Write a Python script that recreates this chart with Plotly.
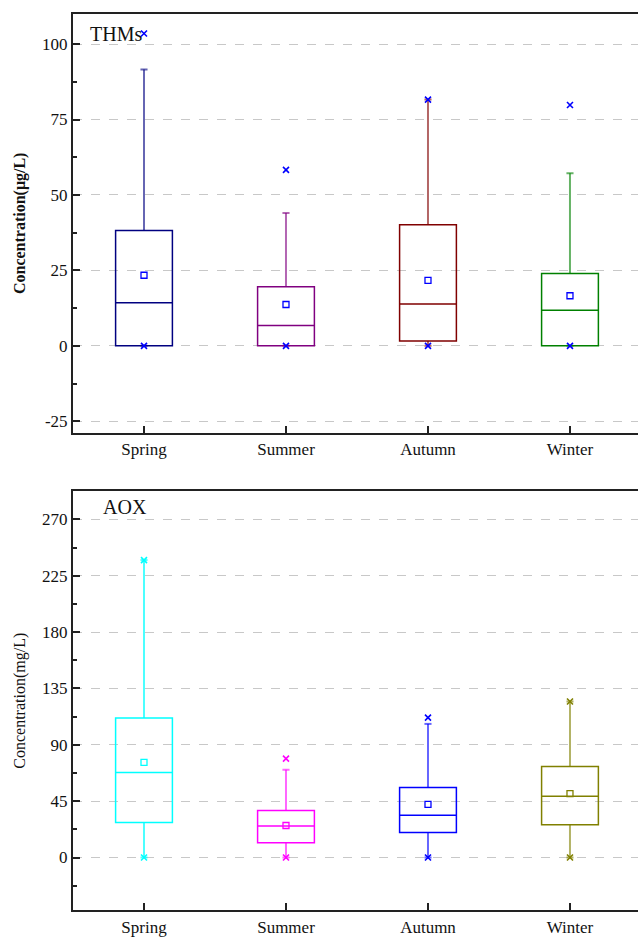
import plotly.graph_objects as go

seasons = ["Spring", "Summer", "Autumn", "Winter"]

# THMs (ug/L)
thm_q1 = [0.0, 0.0, 1.6, 0.0]
thm_med = [14.3, 6.7, 13.9, 11.8]
thm_q3 = [38.2, 19.6, 40.1, 24.0]
thm_mean = [23.4, 13.7, 21.7, 16.6]
thm_wlo = [0.0, 0.0, 0.0, 0.0]
thm_whi = [91.6, 44.0, 81.6, 57.2]
thm_min = [0.0, 0.0, 0.0, 0.0]
thm_max = [103.5, 58.3, 81.6, 79.8]

# AOX (mg/L)
aox_q1 = [28.0, 11.9, 20.0, 26.1]
aox_med = [67.9, 25.1, 33.8, 48.9]
aox_q3 = [111.5, 37.5, 56.0, 72.7]
aox_mean = [76.0, 25.6, 42.5, 51.0]
aox_wlo = [0.0, 0.0, 0.0, 0.0]
aox_whi = [237.5, 70.0, 106.7, 124.6]
aox_min = [0.0, 0.0, 0.0, 0.0]
aox_max = [237.5, 79.0, 111.7, 124.6]

thm_colors = ["#000080", "#800080", "#800000", "#008000"]
thm_wcolors = ["rgba(0,0,128,0.6)", "rgba(128,0,128,0.6)", "rgba(128,0,0,0.6)", "rgba(0,128,0,0.6)"]
thm_mcolors = ["#0000ff"] * 4
aox_colors = ["#00ffff", "#ff00ff", "#0000ff", "#808000"]
aox_wcolors = ["rgba(0,255,255,0.7)", "rgba(255,0,255,0.6)", "rgba(0,0,255,0.6)", "rgba(128,128,0,0.6)"]
aox_mcolors = aox_colors

FONT = "Liberation Serif"
BW = 0.4
CAP = 0.025

fig = go.Figure()


def add_panel(xa, ya, q1, med, q3, mean, wlo, whi, vmin, vmax, cols, wcols, mcols):
    for i in range(len(seasons)):
        # whiskers with caps
        xs = [i, i, None, i, i, None, i - CAP, i + CAP, None, i - CAP, i + CAP]
        ys = [q3[i], whi[i], None, q1[i], wlo[i], None, whi[i], whi[i], None, wlo[i], wlo[i]]
        fig.add_trace(go.Scatter(x=xs, y=ys, mode="lines", xaxis=xa, yaxis=ya,
                                 line=dict(color=wcols[i], width=2), showlegend=False,
                                 hoverinfo="skip"))
        fig.add_trace(go.Box(x=[i], q1=[q1[i]], median=[med[i]], q3=[q3[i]],
                             lowerfence=[q1[i]], upperfence=[q3[i]],
                             width=BW, xaxis=xa, yaxis=ya,
                             line=dict(color=cols[i], width=1.5),
                             fillcolor="rgba(0,0,0,0)", boxpoints=False,
                             showlegend=False))
        fig.add_trace(go.Scatter(x=[i, i], y=[vmin[i], vmax[i]], mode="markers",
                                 xaxis=xa, yaxis=ya,
                                 marker=dict(symbol="x-thin-open", size=6, color=mcols[i],
                                             line=dict(color=mcols[i], width=1.6)),
                                 showlegend=False))
        fig.add_trace(go.Scatter(x=[i], y=[mean[i]], mode="markers",
                                 xaxis=xa, yaxis=ya,
                                 marker=dict(symbol="square-open", size=6,
                                             color=mcols[i], line=dict(color=mcols[i], width=1.3)),
                                 showlegend=False))


add_panel("x", "y", thm_q1, thm_med, thm_q3, thm_mean, thm_wlo, thm_whi,
          thm_min, thm_max, thm_colors, thm_wcolors, thm_mcolors)
add_panel("x2", "y2", aox_q1, aox_med, aox_q3, aox_mean, aox_wlo, aox_whi,
          aox_min, aox_max, aox_colors, aox_wcolors, aox_mcolors)

W, H = 638, 937
xdom = [73 / W, 1.0]
xr = [-0.5, 3.479]
TICKFONT = dict(family=FONT, size=17, color="#111")

common_x = dict(range=xr, tickvals=[0, 1, 2, 3], ticktext=seasons,
                showline=True, linecolor="#222", linewidth=2, mirror=True,
                ticks="inside", ticklen=7, tickwidth=1.5, tickcolor="#222",
                showgrid=False, zeroline=False, tickfont=TICKFONT,
                domain=xdom)

common_y = dict(showline=True, linecolor="#222", linewidth=2, mirror=False,
                ticks="inside", ticklen=7, tickwidth=1.5, tickcolor="#222",
                showgrid=True, gridcolor="#c8c8c8", griddash="dash", gridwidth=1,
                zeroline=False, tickfont=TICKFONT)

fig.update_layout(
    width=W, height=H,
    font=dict(family=FONT, size=17, color="#111"),
    margin=dict(l=0, r=0, t=0, b=0),
    paper_bgcolor="white", plot_bgcolor="white",
    boxgap=0, boxgroupgap=0,
    xaxis=dict(**common_x, anchor="y"),
    yaxis=dict(**common_y, range=[-28.8, 110], tickvals=[-25, 0, 25, 50, 75, 100],
               ticktext=["-25", "0", "25", "50", "75", "100"],
               minor=dict(ticks="inside", ticklen=4, tickwidth=1.5, tickcolor="#222",
                          tickvals=[-12.5, 12.5, 37.5, 62.5, 87.5], showgrid=False),
               domain=[1 - 436 / H, 1 - 14 / H], anchor="x",
               title=dict(text="<b>Concentration(μg/L)</b>", font=dict(family=FONT, size=16, color="#111"),
                          standoff=12)),
    xaxis2=dict(**common_x, anchor="y2"),
    yaxis2=dict(**common_y, range=[-42, 292.4], tickvals=[0, 45, 90, 135, 180, 225, 270],
                ticktext=["0", "45", "90", "135", "180", "225", "270"],
                minor=dict(ticks="inside", ticklen=4, tickwidth=1.5, tickcolor="#222",
                           tickvals=[-22.5, 22.5, 67.5, 112.5, 157.5, 202.5, 247.5], showgrid=False),
                domain=[1 - 917 / H, 1 - 495 / H], anchor="x2",
                title=dict(text="Concentration(mg/L)", font=dict(family=FONT, size=16, color="#111"),
                           standoff=12)),
    annotations=[
        dict(text="THMs", x=88 / W, y=1 - 34 / H, xref="paper", yref="paper",
             xanchor="left", yanchor="middle", showarrow=False,
             font=dict(family=FONT, size=20, color="#111")),
        dict(text="AOX", x=101 / W, y=1 - 511 / H, xref="paper", yref="paper",
             xanchor="left", yanchor="middle", showarrow=False,
             font=dict(family=FONT, size=20, color="#111")),
    ],
)

fig.write_html("out.html")
